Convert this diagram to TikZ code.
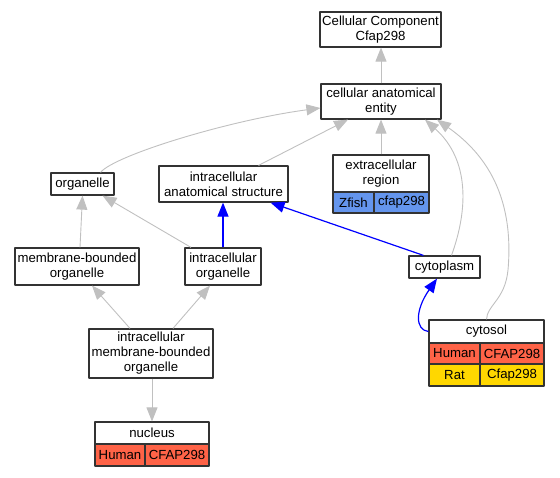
\documentclass[tikz,border=0pt]{standalone}
\usepackage{fontspec}
\setmainfont{Liberation Sans}
\usetikzlibrary{arrows.meta}
\definecolor{edgegray}{HTML}{C0C0C0}
\definecolor{boxgray}{HTML}{333333}
\definecolor{humanred}{HTML}{FF6347}
\definecolor{zfishblue}{HTML}{6495ED}
\definecolor{ratgold}{HTML}{FFD700}
\begin{document}
\begin{tikzpicture}[x=1pt,y=-1pt, line join=round,
	font=\fontsize{13.2}{15}\selectfont,
	box/.style={draw=boxgray, line width=1.2pt, fill=white, inner sep=0pt, align=center},
	isa/.style={draw=edgegray, line width=0.9pt, -{Triangle[length=14pt,width=11pt,fill=edgegray]}},
	part/.style={draw=blue, line width=1.2pt, -{Triangle[length=14pt,width=11pt,fill=blue]}}]
	\useasboundingbox (0,0) rectangle (560,477);
	% cac nut
	\node[box, minimum width=121, minimum height=35] (cc) at (380.5,29.5) {Cellular Component\\Cfap298};
	\node[box, minimum width=120, minimum height=35] (ent) at (381,101.5) {cellular anatomical\\entity};
	\node[box, minimum width=63, minimum height=22] (org) at (82.5,184) {organelle};
	\node[box, minimum width=129, minimum height=36] (ias) at (223.5,184) {intracellular\\anatomical structure};
	\node[box, minimum width=96, minimum height=37] (ext) at (381,173.5) {extracellular\\region};
	\node[box, fill=zfishblue, minimum width=41, minimum height=21] (extz) at (353.5,202.5) {Zfish};
	\node[box, fill=zfishblue, minimum width=55, minimum height=21] (extc) at (401.5,202.5) {cfap298};
	\node[box, minimum width=124, minimum height=37] (mbo) at (77,266.5) {membrane-bounded\\organelle};
	\node[box, minimum width=76, minimum height=37] (io) at (223,266.5) {intracellular\\organelle};
	\node[box, minimum width=71, minimum height=22] (cyp) at (444.5,267) {cytoplasm};
	\node[box, minimum width=124, minimum height=49] (imbo) at (151,353.5) {intracellular\\membrane-bounded\\organelle};
	\node[box, minimum width=115, minimum height=23] (cyt) at (486.5,331.5) {cytosol};
	\node[box, fill=humanred, minimum width=51, minimum height=21] (cyth) at (454.5,353.5) {Human};
	\node[box, fill=humanred, minimum width=64, minimum height=21] (cytc) at (512,353.5) {CFAP298};
	\node[box, fill=ratgold, minimum width=51, minimum height=22] (cytr) at (454.5,375) {Rat};
	\node[box, fill=ratgold, minimum width=64, minimum height=22] (cytf) at (512,375) {Cfap298};
	\node[box, minimum width=114, minimum height=22] (nuc) at (152,433) {nucleus};
	\node[box, fill=humanred, minimum width=50, minimum height=22] (nuch) at (120,455) {Human};
	\node[box, fill=humanred, minimum width=64, minimum height=22] (nucc) at (177,455) {CFAP298};
	% cac canh
	\draw[isa] (ent.north) -- (ent.north |- cc.south);
	\draw[isa] ([xshift=18pt]org.north) .. controls (115,155) and (230,120) .. ([yshift=-6.5pt]ent.west);
	\draw[isa] ([xshift=35pt]ias.north) -- ([xshift=-33pt]ent.south);
	\draw[isa] (ext.north) -- (ext.north |- ent.south);
	\draw[isa] ([xshift=7pt]cyp.north) .. controls (468,210) and (470,160) .. ([xshift=44pt]ent.south);
	\draw[isa] (cyt.north) .. controls (487,305) and (505,300) .. (508,270)
		.. controls (515,190) and (480,150) .. ([xshift=56pt]ent.south);
	\draw[isa] ([xshift=3pt]mbo.north) -- (org.south);
	\draw[isa] ([xshift=-32pt]io.north) -- ([xshift=20pt]org.south);
	\draw[part] (io.north) -- (io.north |- ias.south);
	\draw[part] ([xshift=-21pt]cyp.north) -- ([xshift=47pt]ias.south);
	\draw[isa] ([xshift=-21pt]imbo.north) -- ([xshift=15pt]mbo.south);
	\draw[isa] ([xshift=22pt]imbo.north) -- ([xshift=-13pt]io.south);
	\draw[isa] (imbo.south -| nuc.north) -- (nuc.north) ;
	\draw[part] (cyt.west) .. controls (415,330) and (415,310) .. ([xshift=-7.5pt]cyp.south);
\end{tikzpicture}
\end{document}
